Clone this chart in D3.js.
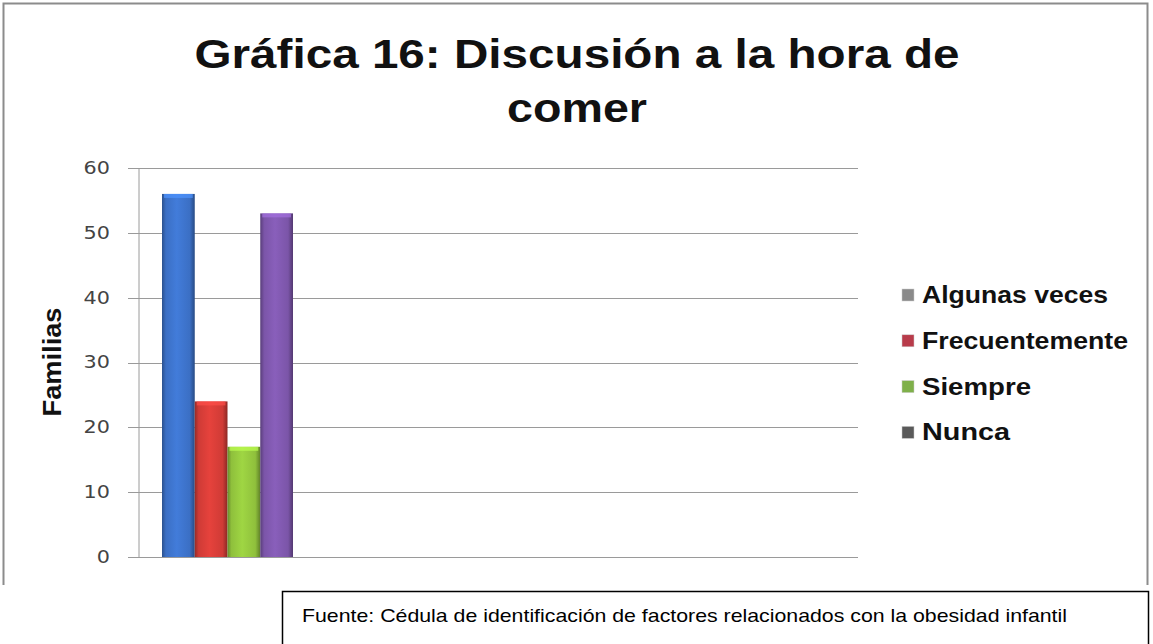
<!DOCTYPE html>
<html>
<head>
<meta charset="utf-8">
<script src="https://cdn.jsdelivr.net/npm/d3@7"></script>
<style>
  html, body { margin: 0; padding: 0; background: #fff; }
  svg { display: block; }
</style>
</head>
<body>
<svg id="chart" width="1153" height="644"></svg>
<script>
// ---- data ----
const titleLines = ["Gráfica 16: Discusión a la hora de", "comer"];
const yLabel = "Familias";
const series = ["Algunas veces", "Frecuentemente", "Siempre", "Nunca"];
const values = [56, 24, 17, 53];
const yTicks = [0, 10, 20, 30, 40, 50, 60];
const barColors = ["#3b6fc4", "#cf3b36", "#8fc03c", "#7b55a8"];
const legendColors = ["#8a8a8a", "#b83b4a", "#7fb04a", "#5a5a5a"];
const sourceText = "Fuente: Cédula de identificación de factores relacionados con la obesidad infantil";

// ---- layout ----
const svg = d3.select("#chart");
const plot = { left: 138, right: 858, top: 168, bottom: 557 };
const FONT = "Liberation Sans, Arial, sans-serif";

// outer frame
svg.append("path")
  .attr("d", "M3.5,585 L3.5,3.5 L1147.5,3.5 L1147.5,585")
  .attr("fill", "none").attr("stroke", "#8c8c8c").attr("stroke-width", 2);

// title (stretched horizontally like the reference)
const titleWidths = [765, 140];
titleLines.forEach((t, i) => {
  svg.append("text")
    .attr("x", 577).attr("y", 68 + i * 54)
    .attr("text-anchor", "middle")
    .attr("font-family", FONT)
    .attr("font-weight", "bold").attr("font-size", 40).attr("fill", "#111")
    .attr("textLength", titleWidths[i]).attr("lengthAdjust", "spacingAndGlyphs")
    .text(t);
});

// scales
const y = d3.scaleLinear().domain([0, 60]).range([plot.bottom, plot.top]);
const x = d3.scaleBand().domain(series).range([162, 293]).padding(0);

// gridlines
svg.append("g").selectAll("line").data(yTicks).join("line")
  .attr("x1", plot.left - 10).attr("x2", plot.right)
  .attr("y1", d => Math.round(y(d)) + 0.5).attr("y2", d => Math.round(y(d)) + 0.5)
  .attr("stroke", "#9a9a9a").attr("stroke-width", 1);

// y axis
const sx = 1.22;
const yAxis = d3.axisLeft(y).tickValues(yTicks).tickSize(0);
const gy = svg.append("g").attr("transform", `translate(${plot.left + 0.5},0)`).call(yAxis);
gy.select(".domain").attr("stroke", "#9a9a9a");
gy.selectAll("text")
  .attr("font-family", "DejaVu Sans, sans-serif").attr("font-size", 17).attr("fill", "#444")
  .attr("x", -28.5 / sx)
  .attr("transform", `scale(${sx},1)`);

// y label
svg.append("text")
  .attr("transform", `translate(61,362) rotate(-90)`)
  .attr("text-anchor", "middle")
  .attr("font-family", FONT)
  .attr("font-weight", "bold").attr("font-size", 25).attr("fill", "#111")
  .attr("textLength", 109).attr("lengthAdjust", "spacingAndGlyphs")
  .text(yLabel);

// gradients for bars
const defs = svg.append("defs");
barColors.forEach((c, i) => {
  const g = defs.append("linearGradient").attr("id", "g" + i)
    .attr("x1", "0%").attr("x2", "100%").attr("y1", "0%").attr("y2", "0%");
  const base = d3.color(c);
  g.append("stop").attr("offset", "0%").attr("stop-color", base.darker(0.9));
  g.append("stop").attr("offset", "12%").attr("stop-color", base);
  g.append("stop").attr("offset", "45%").attr("stop-color", base.brighter(0.3));
  g.append("stop").attr("offset", "85%").attr("stop-color", base);
  g.append("stop").attr("offset", "100%").attr("stop-color", base.darker(1.1));
});

// bars
svg.append("g").selectAll("rect").data(values).join("rect")
  .attr("x", (d, i) => x(series[i]))
  .attr("width", x.bandwidth())
  .attr("y", d => y(d))
  .attr("height", d => y(0) - y(d))
  .attr("fill", (d, i) => `url(#g${i})`);

// bar top highlights
svg.append("g").selectAll("rect").data(values).join("rect")
  .attr("x", (d, i) => x(series[i]) + 2)
  .attr("width", x.bandwidth() - 4)
  .attr("y", d => y(d))
  .attr("height", 4)
  .attr("fill", (d, i) => d3.color(barColors[i]).brighter(0.8))
  .attr("opacity", 0.7);

// legend
const legendWidths = [186, 206, 109, 88];
const lg = svg.append("g").attr("transform", "translate(902,303)");
const item = lg.selectAll("g").data(series).join("g")
  .attr("transform", (d, i) => `translate(0,${i * 45.8})`);
item.append("rect").attr("x", 0).attr("y", -14).attr("width", 12).attr("height", 12)
  .attr("fill", (d, i) => legendColors[i]).attr("stroke", "#ccc").attr("stroke-width", 0.5);
item.append("text").attr("x", 20).attr("y", 0)
  .attr("font-family", FONT)
  .attr("font-weight", "bold").attr("font-size", 24).attr("fill", "#111")
  .attr("textLength", (d, i) => legendWidths[i]).attr("lengthAdjust", "spacingAndGlyphs")
  .text(d => d);

// source box
svg.append("rect").attr("x", 282.5).attr("y", 591.5).attr("width", 866).attr("height", 60)
  .attr("fill", "#fff").attr("stroke", "#000").attr("stroke-width", 1.5);
svg.append("text").attr("x", 302).attr("y", 622)
  .attr("font-family", FONT)
  .attr("font-size", 19).attr("fill", "#000")
  .attr("textLength", 765).attr("lengthAdjust", "spacingAndGlyphs")
  .text(sourceText);
</script>
</body>
</html>
